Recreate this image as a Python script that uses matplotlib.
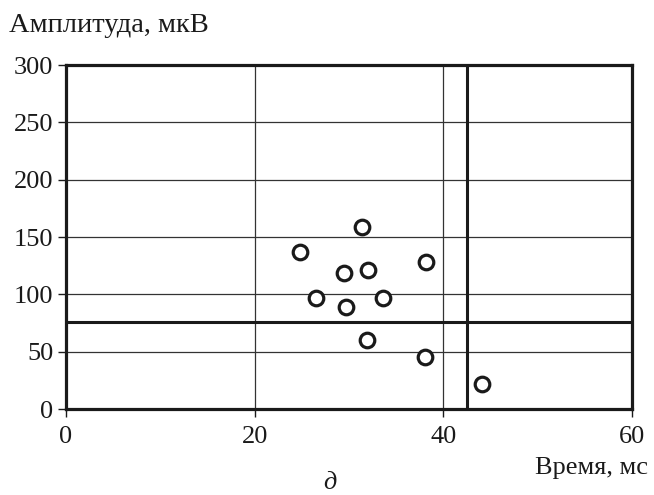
import matplotlib
matplotlib.use("Agg")
import matplotlib.pyplot as plt

# Scatter data (time in ms, amplitude in uV)
time_ms = [31.4, 24.8, 38.2, 29.5, 32.0, 26.5, 33.6, 29.7, 31.9, 38.1, 44.1]
amplitude_uv = [159, 137, 128, 119, 121, 97, 97, 89, 60, 45, 22]

x_ticks = [0, 20, 40, 60]
y_ticks = [0, 50, 100, 150, 200, 250, 300]

# Threshold lines
time_threshold = 42.5
amp_threshold = 76

plt.rcParams["font.family"] = ["Liberation Serif", "DejaVu Serif"]

fig = plt.figure(figsize=(6.54, 4.95), dpi=100)
ax = fig.add_axes([66 / 654, 86 / 495, 566 / 654, 344 / 495])

ax.set_xlim(0, 60)
ax.set_ylim(0, 300)
ax.set_xticks(x_ticks)
ax.set_yticks(y_ticks)

# Grid
for x in x_ticks[1:-1]:
    ax.axvline(x, color="#333333", lw=0.9, zorder=1)
for y in y_ticks[1:-1]:
    ax.axhline(y, color="#333333", lw=0.9, zorder=1)

ax.axvline(time_threshold, color="#1a1a1a", lw=2.2, zorder=2)
ax.axhline(amp_threshold, color="#1a1a1a", lw=2.2, zorder=2)

ax.scatter(time_ms, amplitude_uv, s=110, facecolors="white",
           edgecolors="#1a1a1a", linewidths=2.3, zorder=3)

for spine in ax.spines.values():
    spine.set_linewidth(2.3)
    spine.set_color("#1a1a1a")

ax.tick_params(axis="both", direction="out", length=6, width=1.0,
               labelsize=19, colors="#1a1a1a")
ax.tick_params(axis="x", pad=6)
ax.tick_params(axis="y", pad=3)

fig.text(9 / 654, 1 - 26 / 495, "Амплитуда, мкВ", fontsize=20.5,
         ha="left", va="center", color="#1a1a1a")
fig.text(648 / 654, 1 - 468 / 495, "Время, мс", fontsize=19,
         ha="right", va="center", color="#1a1a1a")
fig.text(330 / 654, 1 - 483 / 495, "д", fontsize=19, style="italic",
         ha="center", va="center", color="#1a1a1a")

fig.savefig("out.png", dpi=100)
